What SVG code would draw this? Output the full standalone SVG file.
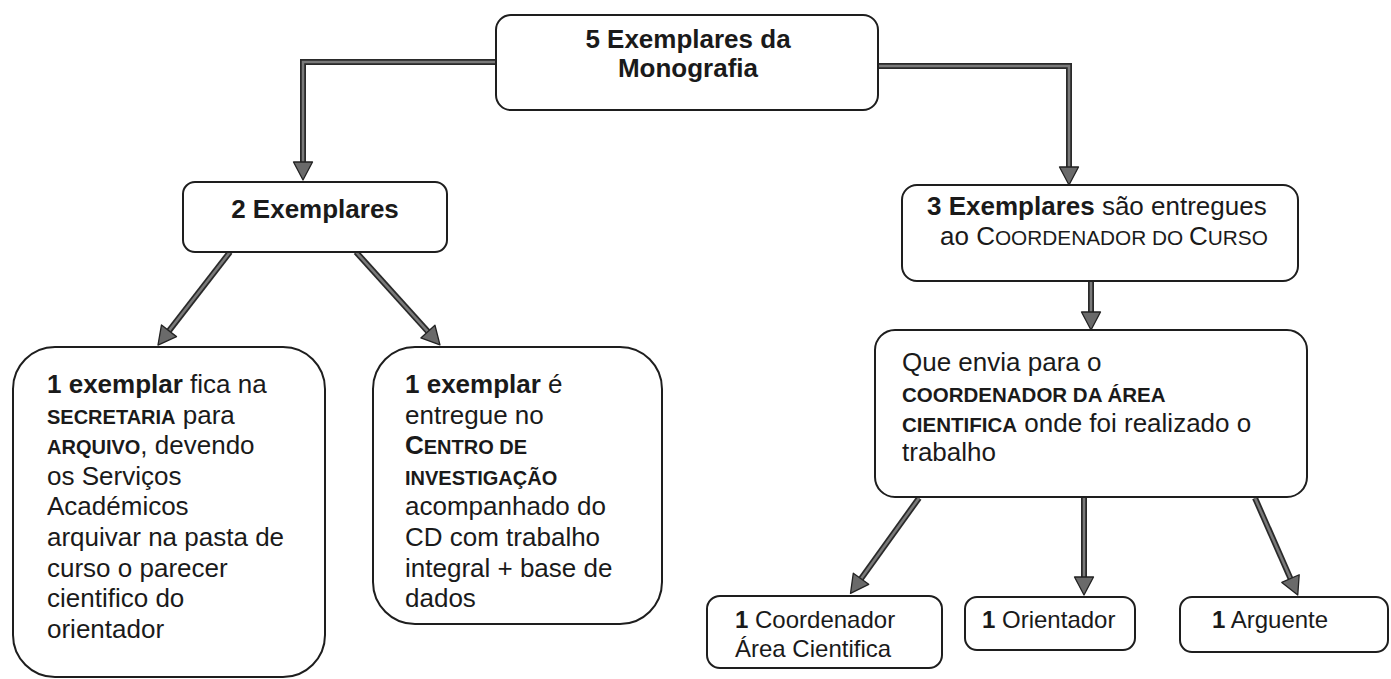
<svg xmlns="http://www.w3.org/2000/svg" width="1391" height="679" viewBox="0 0 1391 679">
<style>
.box{fill:#fff;stroke:#1e1e1e;stroke-width:2}
text{font-family:"Liberation Sans",Arial,sans-serif;font-size:26px;fill:#1a1a1a}
.b{font-weight:bold}
.sc{font-size:20px;font-weight:bold}
.scr{font-size:20.8px}
.ctr{text-anchor:middle}
.sm{font-size:24px}
.eo{fill:none;stroke:#2a2a2a;stroke-width:6;stroke-linejoin:miter}
.ei{fill:none;stroke:#7a7a7a;stroke-width:2.5;stroke-linejoin:miter;marker-end:url(#ah)}
</style>
<defs>
<marker id="ah" markerUnits="userSpaceOnUse" markerWidth="26" markerHeight="26" viewBox="-3 -13 26 26" refX="0" refY="0" orient="auto">
<path d="M0,-9.5 L18,0 L0,9.5 Z" fill="#6a6a6a" stroke="#222" stroke-width="1.3" stroke-linejoin="round"/>
</marker>
</defs>
<rect width="1391" height="679" fill="#fff"/>

<g id="connectors">
<path class="eo" d="M496,62 H303 V162"/><path class="ei" d="M496,62 H303 V162"/>
<path class="eo" d="M878,66 H1069 V167"/><path class="ei" d="M878,66 H1069 V167"/>
<path class="eo" d="M1091,281 V312"/><path class="ei" d="M1091,281 V312"/>
<path class="eo" d="M230,252 L169,330.8"/><path class="ei" d="M230,252 L169,330.8"/>
<path class="eo" d="M356,252 L427.9,331.6"/><path class="ei" d="M356,252 L427.9,331.6"/>
<path class="eo" d="M919,498 L861,578.8"/><path class="ei" d="M919,498 L861,578.8"/>
<path class="eo" d="M1084,498 V577"/><path class="ei" d="M1084,498 V577"/>
<path class="eo" d="M1255,498 L1290.5,578.6"/><path class="ei" d="M1255,498 L1290.5,578.6"/>
</g>

<g id="n-top">
<rect class="box" x="496" y="15" width="382" height="95" rx="15"/>
<text class="b ctr" x="688" y="48">5 Exemplares da</text>
<text class="b ctr" x="688" y="77">Monografia</text>
</g>

<g id="n-2ex">
<rect class="box" x="183" y="182" width="264" height="70" rx="12"/>
<text class="b ctr" x="315" y="218">2 Exemplares</text>
</g>

<g id="n-3ex">
<rect class="box" x="902" y="185" width="396" height="96" rx="15"/>
<text x="927" y="215"><tspan class="b">3 Exemplares</tspan> são entregues</text>
<text x="940" y="245">ao C<tspan class="scr">OORDENADOR DO </tspan>C<tspan class="scr">URSO</tspan></text>
</g>

<g id="n-envia">
<rect class="box" x="875" y="330" width="432" height="167" rx="20"/>
<text x="902" y="371">Que envia para o</text>
<text x="902" y="402"><tspan class="sc" style="font-size:20.5px">COORDENADOR DA ÁREA</tspan></text>
<text x="902" y="432"><tspan class="sc" style="font-size:20.5px">CIENTIFICA</tspan> onde foi realizado o</text>
<text x="902" y="461">trabalho</text>
</g>

<g id="n-secretaria">
<rect class="box" x="13" y="347" width="312" height="330" rx="42"/>
<text x="47" y="393"><tspan class="b">1 exemplar</tspan> fica na</text>
<text x="47" y="424"><tspan class="sc">SECRETARIA</tspan> para</text>
<text x="47" y="454"><tspan class="sc">ARQUIVO</tspan>, devendo</text>
<text x="47" y="485">os Serviços</text>
<text x="47" y="515">Académicos</text>
<text x="47" y="546">arquivar na pasta de</text>
<text x="47" y="577">curso o parecer</text>
<text x="47" y="607">cientifico do</text>
<text x="47" y="638">orientador</text>
</g>

<g id="n-centro">
<rect class="box" x="373" y="347" width="289" height="277" rx="42"/>
<text x="405" y="393"><tspan class="b">1 exemplar</tspan> é</text>
<text x="405" y="424">entregue no</text>
<text x="405" y="454"><tspan class="b">C</tspan><tspan class="sc">ENTRO DE</tspan></text>
<text x="405" y="485"><tspan class="sc">INVESTIGAÇÃO</tspan></text>
<text x="405" y="515">acompanhado do</text>
<text x="405" y="546">CD com trabalho</text>
<text x="405" y="577">integral + base de</text>
<text x="405" y="607">dados</text>
</g>

<g id="n-coord-area">
<rect class="box" x="707" y="596" width="235" height="72" rx="13"/>
<text class="sm" x="735" y="628"><tspan class="b">1</tspan> Coordenador</text>
<text class="sm" x="735" y="657">Área Cientifica</text>
</g>

<g id="n-orientador">
<rect class="box" x="965" y="597" width="170" height="53" rx="12"/>
<text class="sm" x="982" y="628"><tspan class="b">1</tspan> Orientador</text>
</g>

<g id="n-arguente">
<rect class="box" x="1180" y="597" width="208" height="55" rx="12"/>
<text class="sm" x="1212" y="628"><tspan class="b">1</tspan> Arguente</text>
</g>
</svg>
